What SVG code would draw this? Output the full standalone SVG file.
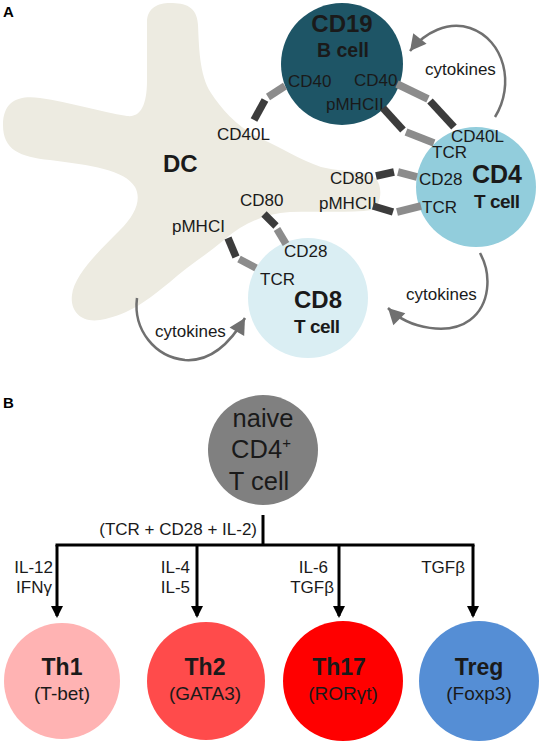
<svg xmlns="http://www.w3.org/2000/svg" width="543" height="744" viewBox="0 0 543 744">
<defs>
<style>
text{font-family:"Liberation Sans",Arial,sans-serif;fill:#1a1a1a}
.lbl{font-size:17px}
.b{font-weight:bold}
.panel{font-size:15px;font-weight:bold;fill:#000}
.dk{stroke:#3c3c3c;stroke-width:7.5;fill:none}
.lt{stroke:#8c8c8c;stroke-width:7.5;fill:none}
.cyt{stroke:#707070;stroke-width:2.5;fill:none}
.tree{stroke:#000;stroke-width:3;fill:none}
</style>
<marker id="cytHead" viewBox="-17 -10 19 20" refX="0" refY="0" markerWidth="19" markerHeight="20" markerUnits="userSpaceOnUse" orient="auto">
<path d="M0,0 L-16,-8.5 L-16,8.5 Z" fill="#707070"/>
</marker>
<marker id="treeHead" viewBox="0 0 12 12" refX="10" refY="6" markerWidth="12" markerHeight="12" markerUnits="userSpaceOnUse" orient="auto">
<path d="M0,0 L12,6 L0,12 Z" fill="#000"/>
</marker>
</defs>

<text x="3" y="17" class="panel">A</text>
<text x="3" y="408" class="panel">B</text>

<g id="DC">
<path d="M147,22 C147,8 158,3 170,3 C185,3 197,6 198,25 C199,45 199,75 211,93 C222,110 240,130 264,140 C280,147 300,160 321,167 C340,172 365,170 375,178 C383,185 382,205 372,210 C350,213 320,211 290,212 C265,214 245,222 224,240 C205,256 185,268 170,282 C150,298 130,315 100,320 C80,323 70,310 72,295 C74,275 100,250 120,230 C135,215 142,200 135,187 C125,170 90,165 50,160 C20,157 3,150 3,125 C3,100 20,95 40,98 C70,102 100,112 127,116 C143,118 147,100 147,80 Z" fill="#edebe1"/>
<text x="163" y="172" class="b" style="font-size:24px">DC</text>
<text x="217" y="140" class="lbl">CD40L</text>
<text x="330" y="184" class="lbl">CD80</text>
<text x="319" y="209" class="lbl">pMHCII</text>
<text x="240" y="206" class="lbl">CD80</text>
<text x="172" y="232" class="lbl">pMHCI</text>
</g>

<g id="CD19">
<circle cx="342" cy="64" r="61" fill="#1e5566"/>
<text x="342" y="32" text-anchor="middle" class="b" style="font-size:24px">CD19</text>
<text x="343" y="57" text-anchor="middle" class="b" style="font-size:19.5px">B cell</text>
<text x="288" y="87" class="lbl">CD40</text>
<text x="354" y="86" class="lbl">CD40</text>
<text x="326" y="110" class="lbl">pMHCII</text>
</g>

<g id="CD4">
<circle cx="476" cy="187" r="60" fill="#92cddc"/>
<text x="451" y="142" class="lbl">CD40L</text>
<text x="432" y="158" class="lbl">TCR</text>
<text x="419" y="185" class="lbl">CD28</text>
<text x="422" y="213" class="lbl">TCR</text>
<text x="472" y="183" class="b" style="font-size:25px">CD4</text>
<text x="474" y="208" class="b" style="font-size:19px;letter-spacing:-0.5px">T cell</text>
</g>

<g id="CD8">
<circle cx="308" cy="298" r="60" fill="#daeef3"/>
<text x="284" y="257" class="lbl">CD28</text>
<text x="260" y="285" class="lbl">TCR</text>
<text x="294" y="308" class="b" style="font-size:24px">CD8</text>
<text x="294" y="333" class="b" style="font-size:19px;letter-spacing:-0.5px">T cell</text>
</g>

<g id="cytokine-labels">
<text x="425" y="75" class="lbl">cytokines</text>
<text x="406" y="300" class="lbl">cytokines</text>
<text x="155" y="337" class="lbl">cytokines</text>
</g>

<g id="naive">
<circle cx="263" cy="450" r="55" fill="#808080"/>
<text x="263" y="427" text-anchor="middle" style="font-size:25.5px">naive</text>
<text x="261" y="458" text-anchor="middle" style="font-size:25.5px">CD4<tspan dy="-10" style="font-size:15px">+</tspan></text>
<text x="259" y="490" text-anchor="middle" style="font-size:25.5px">T cell</text>
</g>

<g id="Th1">
<circle cx="62" cy="681" r="58" fill="#ffb3b3"/>
<text x="62" y="675" text-anchor="middle" class="b" style="font-size:23px">Th1</text>
<text x="62" y="700" text-anchor="middle" style="font-size:19px">(T-bet)</text>
</g>
<g id="Th2">
<circle cx="206" cy="681" r="59" fill="#ff4b4b"/>
<text x="205" y="675" text-anchor="middle" class="b" style="font-size:23px">Th2</text>
<text x="205" y="700" text-anchor="middle" style="font-size:19px">(GATA3)</text>
</g>
<g id="Th17">
<circle cx="343" cy="681" r="60" fill="#ff0000"/>
<text x="339" y="675" text-anchor="middle" class="b" style="font-size:23px">Th17</text>
<text x="343" y="700" text-anchor="middle" style="font-size:19px">(ROR&#947;t)</text>
</g>
<g id="Treg">
<circle cx="479" cy="681" r="60" fill="#558ed5"/>
<text x="479" y="675" text-anchor="middle" class="b" style="font-size:23px">Treg</text>
<text x="479" y="700" text-anchor="middle" style="font-size:19px">(Foxp3)</text>
</g>

<g id="connectors">
<line class="dk" x1="254" y1="120" x2="265" y2="100"/>
<line class="lt" x1="268" y1="97" x2="285" y2="86"/>
<line class="lt" x1="397" y1="84" x2="428" y2="99"/>
<line class="dk" x1="430" y1="101" x2="454" y2="127"/>
<line class="dk" x1="383" y1="108" x2="403" y2="130"/>
<line class="lt" x1="406" y1="132" x2="434" y2="143"/>
<line class="dk" x1="376" y1="176" x2="394" y2="172"/>
<line class="lt" x1="398" y1="172" x2="417" y2="177"/>
<line class="dk" x1="373" y1="206" x2="393" y2="212"/>
<line class="lt" x1="397" y1="212" x2="421" y2="206"/>
<line class="dk" x1="264" y1="214" x2="276" y2="226"/>
<line class="lt" x1="277" y1="229" x2="286" y2="244"/>
<line class="dk" x1="228" y1="238" x2="236" y2="257"/>
<line class="lt" x1="239" y1="259" x2="256" y2="268"/>

<path class="cyt" d="M495,117 C515,85 505,40 470,28 C448,21 425,32 410,51" marker-end="url(#cytHead)"/>
<path class="cyt" d="M480,253 C492,275 490,305 470,320 C450,335 410,330 388,308" marker-end="url(#cytHead)"/>
<path class="cyt" d="M137,298 C133,330 155,357 185,360 C212,362 232,340 245,318" marker-end="url(#cytHead)"/>

<line class="tree" x1="263" y1="515" x2="263" y2="545"/>
<line class="tree" x1="55.5" y1="545" x2="474.5" y2="545"/>
<line class="tree" x1="57" y1="545" x2="57" y2="616" marker-end="url(#treeHead)"/>
<line class="tree" x1="197" y1="545" x2="197" y2="616" marker-end="url(#treeHead)"/>
<line class="tree" x1="339" y1="545" x2="339" y2="616" marker-end="url(#treeHead)"/>
<line class="tree" x1="473" y1="545" x2="473" y2="616" marker-end="url(#treeHead)"/>

<text x="257" y="535" text-anchor="end" class="lbl">(TCR + CD28 + IL-2)</text>
<text x="53" y="573" text-anchor="end" class="lbl">IL-12</text>
<text x="52" y="593" text-anchor="end" class="lbl">IFN&#947;</text>
<text x="190" y="573" text-anchor="end" class="lbl">IL-4</text>
<text x="190" y="593" text-anchor="end" class="lbl">IL-5</text>
<text x="328" y="573" text-anchor="end" class="lbl">IL-6</text>
<text x="334" y="593" text-anchor="end" class="lbl">TGF&#946;</text>
<text x="465" y="573" text-anchor="end" class="lbl">TGF&#946;</text>
</g>
</svg>
